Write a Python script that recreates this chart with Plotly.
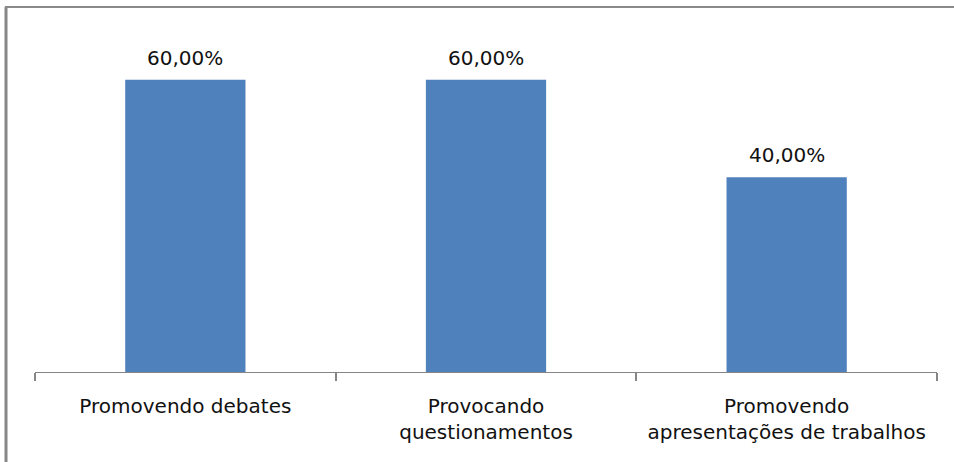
import plotly.graph_objects as go

categories = ["Promovendo debates", "Provocando<br>questionamentos", "Promovendo<br>apresentações de trabalhos"]
values = [0.60, 0.60, 0.40]

W, H = 954, 462
ML, MR, MT, MB = 35, 17, 31, 90
PW, PH = W - ML - MR, H - MT - MB
FONT = "DejaVu Sans"


def pct(v):
    return f"{v * 100:.2f}".replace(".", ",") + "%"


def px_to_paper_x(px):
    return (px - ML) / PW


def px_to_paper_y(py):
    return (H - MB - py) / PH


fig = go.Figure(
    go.Bar(
        x=categories,
        y=values,
        marker=dict(color="#4F81BD", line=dict(width=0)),
        hoverinfo="skip",
    )
)

# value labels above each bar
for c, v in zip(categories, values):
    fig.add_annotation(
        x=c, y=v, text=pct(v), showarrow=False,
        yanchor="middle", yshift=22,
        font=dict(family=FONT, size=20, color="#111111"),
    )

# chart frame: thick left edge and thin top edge
fig.add_shape(type="line", xref="paper", yref="paper",
              x0=px_to_paper_x(6), x1=px_to_paper_x(6),
              y0=px_to_paper_y(7), y1=px_to_paper_y(H + 2),
              line=dict(color="#878787", width=3))
fig.add_shape(type="line", xref="paper", yref="paper",
              x0=px_to_paper_x(5), x1=px_to_paper_x(W + 2),
              y0=px_to_paper_y(7), y1=px_to_paper_y(7),
              line=dict(color="#8a8a8a", width=2))

fig.update_layout(
    width=W, height=H,
    margin=dict(l=ML, r=MR, t=MT, b=MB, pad=0),
    paper_bgcolor="white", plot_bgcolor="white",
    bargap=0.6,
    showlegend=False,
    font=dict(family=FONT, size=20, color="#111111"),
)
fig.update_xaxes(
    showline=True, linecolor="#868686", linewidth=1,
    ticks="outside", tickson="boundaries", ticklen=8, tickwidth=2, tickcolor="#868686",
    showgrid=False, tickfont=dict(family=FONT, size=20, color="#111111"),
    ticklabelstandoff=16,
)
fig.update_yaxes(range=[0, 0.70], visible=False, showgrid=False)

fig.write_html("out.html")
